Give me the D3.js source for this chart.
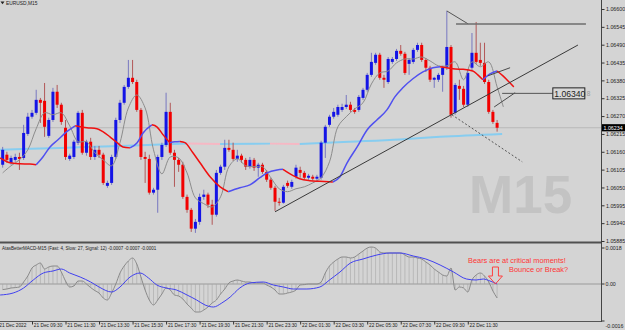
<!DOCTYPE html>
<html><head><meta charset="utf-8">
<script src="https://cdn.jsdelivr.net/npm/d3@7"></script>
<style>html,body{margin:0;padding:0;background:#d4d4d4;overflow:hidden}svg{display:block}</style>
</head><body><svg id="c" width="625" height="330"></svg>
<script>
// ---------- DATA (EURUSD M15, first bar 21 Dec 07:45) ----------
const openP = [1.06120,1.06151,1.06126,1.06135,1.06144,1.06141,1.06215,1.06268,1.06280,1.06320,
1.06317,1.06209,1.06258,1.06345,1.06305,1.06234,1.06138,1.06144,1.06188,1.06280,
1.06157,1.06191,1.06144,1.06166,1.06151,1.06055,1.06064,1.06144,1.06258,1.06311,
1.06360,1.06388,1.06375,1.06289,1.06144,1.06138,1.06034,1.06043,1.06144,1.06181,
1.06283,1.06157,1.06135,1.06120,1.06021,1.05981,1.05923,1.05944,1.06021,1.06028,
1.05997,1.05966,1.06095,1.06114,1.06172,1.06166,1.06138,1.06148,1.06135,1.06114,
1.06135,1.06111,1.06120,1.06098,1.06074,1.06049,1.06006,1.06003,1.06064,1.06052,
1.06083,1.06104,1.06095,1.06080,1.06083,1.06077,1.06080,1.06188,1.06243,1.06268,
1.06274,1.06289,1.06298,1.06305,1.06289,1.06289,1.06326,1.06351,1.06397,1.06434,
1.06459,1.06388,1.06375,1.06437,1.06446,1.06471,1.06462,1.06431,1.06437,1.06474,
1.06489,1.06443,1.06419,1.06382,1.06382,1.06397,1.06422,1.06483,1.06280,1.06363,
1.06354,1.06305,1.06419,1.06465,1.06443,1.06434,1.06375,1.06283,1.06249];
const highP = [1.06175,1.06160,1.06148,1.06154,1.06157,1.06243,1.06280,1.06289,1.06351,1.06326,
1.06372,1.06265,1.06357,1.06366,1.06311,1.06258,1.06154,1.06197,1.06286,1.06289,
1.06197,1.06203,1.06178,1.06178,1.06157,1.06071,1.06151,1.06265,1.06320,1.06366,
1.06443,1.06443,1.06382,1.06295,1.06160,1.06151,1.06049,1.06151,1.06188,1.06342,
1.06311,1.06166,1.06141,1.06129,1.06028,1.05987,1.05953,1.06031,1.06043,1.06034,
1.06012,1.06104,1.06120,1.06197,1.06197,1.06188,1.06166,1.06154,1.06141,1.06144,
1.06141,1.06126,1.06126,1.06104,1.06080,1.06055,1.06018,1.06058,1.06071,1.06074,
1.06120,1.06114,1.06101,1.06092,1.06089,1.06089,1.06194,1.06243,1.06274,1.06295,
1.06305,1.06308,1.06335,1.06314,1.06295,1.06335,1.06357,1.06403,1.06465,1.06465,
1.06465,1.06397,1.06452,1.06452,1.06477,1.06489,1.06468,1.06449,1.06480,1.06496,
1.06496,1.06449,1.06425,1.06391,1.06403,1.06425,1.06594,1.06489,1.06372,1.06382,
1.06363,1.06412,1.06526,1.06560,1.06496,1.06496,1.06382,1.06289,1.06258];
const lowP = [1.06111,1.06126,1.06120,1.06129,1.06104,1.06135,1.06209,1.06262,1.06274,1.06249,
1.06206,1.06203,1.06252,1.06295,1.06243,1.06135,1.06132,1.06138,1.06181,1.06151,
1.06148,1.06135,1.06135,1.06141,1.06058,1.06049,1.06058,1.06138,1.06249,1.06305,
1.06354,1.06369,1.06283,1.06135,1.06064,1.06028,1.06028,1.05972,1.06135,1.06175,
1.06151,1.06052,1.06098,1.06015,1.05972,1.05913,1.05910,1.05935,1.06012,1.05987,
1.05935,1.05960,1.06089,1.06104,1.06160,1.06132,1.06129,1.06126,1.06104,1.06108,
1.06101,1.06083,1.06092,1.06067,1.06043,1.05978,1.05994,1.06000,1.06049,1.06046,
1.06077,1.06080,1.06074,1.06074,1.06071,1.06071,1.06074,1.06141,1.06237,1.06262,
1.06268,1.06283,1.06292,1.06283,1.06277,1.06283,1.06320,1.06345,1.06391,1.06428,
1.06382,1.06357,1.06369,1.06431,1.06440,1.06456,1.06397,1.06397,1.06431,1.06468,
1.06437,1.06406,1.06375,1.06357,1.06375,1.06345,1.06412,1.06265,1.06274,1.06320,
1.06298,1.06298,1.06412,1.06431,1.06425,1.06369,1.06277,1.06246,1.06222];
const closeP = [1.06166,1.06135,1.06141,1.06144,1.06138,1.06218,1.06268,1.06280,1.06320,1.06311,
1.06237,1.06258,1.06345,1.06305,1.06252,1.06144,1.06148,1.06191,1.06280,1.06157,
1.06191,1.06144,1.06166,1.06151,1.06064,1.06064,1.06144,1.06258,1.06311,1.06360,
1.06388,1.06375,1.06289,1.06144,1.06138,1.06034,1.06043,1.06144,1.06181,1.06283,
1.06157,1.06135,1.06120,1.06021,1.05981,1.05923,1.05944,1.06021,1.06028,1.05997,
1.05966,1.06095,1.06114,1.06172,1.06166,1.06138,1.06148,1.06135,1.06114,1.06135,
1.06111,1.06120,1.06098,1.06074,1.06049,1.06006,1.06003,1.06052,1.06055,1.06067,
1.06111,1.06095,1.06080,1.06086,1.06077,1.06083,1.06188,1.06237,1.06268,1.06283,
1.06298,1.06298,1.06305,1.06289,1.06283,1.06329,1.06351,1.06397,1.06437,1.06459,
1.06388,1.06382,1.06446,1.06446,1.06471,1.06462,1.06403,1.06443,1.06474,1.06489,
1.06443,1.06419,1.06382,1.06388,1.06397,1.06419,1.06483,1.06274,1.06366,1.06354,
1.06305,1.06403,1.06465,1.06437,1.06434,1.06375,1.06283,1.06252,1.06234];

const lastPrice = 1.06234;
const priceTicks = [1.06600,1.06545,1.06490,1.06435,1.06380,1.06325,1.06270,1.06215,1.06160,1.06105,1.06050,1.05995,1.05940,1.05885];
const timeTickBars = [-1.25,7,15,23,31,39,47,55,63,71,79,87,95,103,111];
const timeTickLabels = ["21 Dec 2022","21 Dec 09:30","21 Dec 11:30","21 Dec 13:30","21 Dec 15:30","21 Dec 17:30","21 Dec 19:30","21 Dec 21:30","21 Dec 23:30","22 Dec 01:30","22 Dec 03:30","22 Dec 05:30","22 Dec 07:30","22 Dec 09:30","22 Dec 11:30"];

// fast moving average (thin grey)
const fastIdx = [0,2,4,6,8,10,12,14,16,18,20,22,24,26,28,30,32,34,36,38,40,42,44,46,48,50,52,54,56,58,60,62,64,66,68,70,72,74,76,78,80,82,84,86,88,90,92,94,96,98,100,102,104,106,108,110,112,114,116,118,119.5];
const fastVal = [1.06095,1.06117,1.06135,1.06166,1.06231,1.06280,1.06274,1.06280,1.06240,1.06191,
1.06191,1.06157,1.06135,1.06117,1.06188,1.06295,1.06335,1.06295,1.06166,1.06092,
1.06144,1.06141,1.06095,1.06018,1.06000,1.05990,1.06021,1.06114,1.06138,1.06117,
1.06114,1.06114,1.06080,1.06046,1.06037,1.06046,1.06052,1.06064,1.06080,1.06129,
1.06237,1.06268,1.06292,1.06311,1.06369,1.06403,1.06409,1.06434,1.06446,1.06446,
1.06452,1.06440,1.06425,1.06425,1.06437,1.06382,1.06437,1.06422,1.06437,1.06360,1.06298];

// trend-coloured moving average (blue rising / red falling)
const midIdx = [-0.6,1.75,4.1,6.5,8,9.6,11.3,13.2,15.3,17.3,20.1,22.5,23.9,25.6,27.3,28.7,30.4,32.1,33.5,35.6,36.8,38.3,39.9,41.1,42.3,43.5,45.4,47.1,49.5,51.9,53.8,56.6,59.0,61.4,63.1,65.5,66.9,68.6,70.9,73.3,75.7,78.8,80.5,82.2,84.6,87.0,89.3,91.7,93.6,95.5,97.9,100.3,102.7,104.4,106.0,108.0,109.9,112.2,113.4,114.6,116.3,118.0,119.4,121.1,122.0];
const midVal = [1.06141,1.06126,1.06123,1.06122,1.06120,1.06144,1.06175,1.06197,1.06222,1.06240,
1.06234,1.06231,1.06222,1.06206,1.06188,1.06175,1.06172,1.06188,1.06218,1.06243,
1.06237,1.06212,1.06188,1.06191,1.06192,1.06188,1.06157,1.06126,1.06083,1.06052,1.06037,
1.06049,1.06058,1.06080,1.06095,1.06104,1.06106,1.06092,1.06077,1.06071,1.06069,1.06067,
1.06083,1.06126,1.06175,1.06228,1.06258,1.06289,1.06329,1.06357,1.06385,1.06406,1.06419,1.06422,
1.06419,1.06415,1.06414,1.06409,1.06397,1.06382,1.06400,1.06409,1.06394,1.06372,1.06360];

// slow moving average (light blue rising / pink falling)
const slowIdx = [-0.6,13.7,28.0,44.0,51.9,63.8,70.9,82.9,94.8,104.4,119.2];
const slowVal = [1.06166,1.06172,1.06178,1.061857,1.061839,1.061851,1.061842,1.06191,1.06198,1.06206,1.06215];

// MACD (Fast 4, Slow 27, Signal 12)
const macdMain = [-0.00028,-0.00025,-0.0002,-0.00018,-0.00015,0.0001,0.0004,0.0008,0.00095,0.00105,
0.00075,0.00085,0.0009,0.0009,0.0006,0.00015,-0.00015,-0.0001,0.00015,0.00015,
0,-0.00018,-0.00033,-0.00045,-0.0007,-0.0008,-0.00045,0,0.00055,0.0009,
0.00115,0.0013,0.001,0.00035,-0.0003,-0.0008,-0.00105,-0.0008,-0.0005,-0.0002,
-0.0003,-0.00055,-0.0006,-0.00075,-0.001,-0.0012,-0.0014,-0.0014,-0.0013,-0.00115,
-0.00095,-0.0008,-0.0005,-0.00025,0.00005,0.00015,0.0002,0.00015,0.0001,0.0001,
0.00005,0.00005,0.00005,-0.00005,-0.00015,-0.0003,-0.0005,-0.0005,-0.00045,-0.0004,
-0.0003,-0.00005,-0.00003,0,0,0,0.0001,0.00055,0.0009,0.0011,
0.00125,0.00135,0.00135,0.0013,0.00135,0.0015,0.00165,0.0018,0.00185,0.0018,
0.0016,0.00155,0.00155,0.00155,0.00155,0.00155,0.00145,0.00135,0.00135,0.0013,
0.00125,0.0011,0.00095,0.00075,0.0006,0.00045,0.0004,0.0008,-0.0003,-0.00015,
-0.0002,-0.0004,0.0002,0.00045,0.00055,0.0004,0.0001,-0.00035,-0.0007];
const sigIdx = [-0.6,2.5,5,7.3,9.7,12,14,16,18.5,21,23,26,28,30.4,32.8,34.8,36.8,39,41.5,44,46.3,48.3,50.3,52.3,54.3,56.6,59,62.2,64.6,67,69.4,72.6,75.7,78,80.5,83,86,89.3,92.4,94.8,98,101,104.4,107.6,110.7,113,114.7,116.3,118];
const sigVal = [-0.00055,-0.00045,-0.0002,0.0002,0.00055,0.00065,0.00075,0.00055,0.00035,0.0001,
-0.00015,-0.0004,-0.00015,0.00035,0.00055,0.0003,-0.00005,-0.0002,-0.0003,-0.00055,
-0.0008,-0.00105,-0.00115,-0.00095,-0.00065,-0.0002,0.00005,0.0001,-0.00005,-0.00015,
-0.00025,-0.00025,-0.00015,0.0002,0.0006,0.00105,0.00125,0.00145,0.00155,0.00155,
0.0014,0.00125,0.00095,0.0006,0.00025,0.0002,0.00025,0.00015,0];
const macdTicks = [0.0018, 0, -0.0016];
const macdTickLabels = ["0.0018","0.00","-0.0016"];

// drawn objects: [bar index, price]
const trendLine = [[65,1.05975],[137.3,1.06489]];
const channelUpper = [[115.8,1.06394],[121.1,1.06419]];
const channelLower = [[117.3,1.06298],[122.3,1.06342]];
const levelLine = [[119.2,1.06340],[131.3,1.06340]];
const dashedLine = [[107.2,1.06274],[124,1.06129]];
const topDiag = [[106,1.06594],[111.1,1.06554]];
const topLevel = [[108.2,1.06554],[139.2,1.06554]];
const levelLabel = "1.06340";

// ---------- DRAW ----------
const svg = d3.select("#c");
const W = 625, H = 330, AX = 601, MAINB = 242, SUBT = 244, SUBB = 321;
const font = "'Liberation Sans', Arial, sans-serif";
svg.append("rect").attr("width",W).attr("height",H).attr("fill","#d4d4d4");

const x = d3.scaleLinear().domain([0,118]).range([2.67,497.1]);
const y = d3.scaleLinear().domain([1.05885,1.06600]).range([241,9]);
const ym = d3.scaleLinear().domain([-0.0016,0.0018]).range([316,248]);

const defs = svg.append("defs");
defs.append("clipPath").attr("id","cm").append("rect").attr("x",0).attr("y",0).attr("width",AX).attr("height",MAINB);
defs.append("clipPath").attr("id","cs").append("rect").attr("x",0).attr("y",SUBT).attr("width",AX).attr("height",SUBB-SUBT);

const main = svg.append("g").attr("clip-path","url(#cm)");

// watermark
main.append("text").attr("x",469).attr("y",213).attr("font-family",font).attr("font-weight","bold")
  .attr("font-size",53).attr("fill","#c3c3c3").text("M15");

// bid line
main.append("line").attr("x1",0).attr("x2",AX).attr("y1",y(lastPrice)).attr("y2",y(lastPrice))
  .attr("stroke","#b9b9b9").attr("stroke-width",1);

// coloured runs helper
function runs(idx, val){
  const out=[]; let cur=null, dir=null;
  for(let k=0;k<idx.length-1;k++){
    const d = val[k+1] >= val[k] ? "up" : "down";
    if(d!==dir){ cur={dir:d, pts:[[idx[k],val[k]]]}; out.push(cur); dir=d; }
    cur.pts.push([idx[k+1],val[k+1]]);
  }
  return out;
}
const pl = d3.line().x(d=>x(d[0])).y(d=>y(d[1])).curve(d3.curveMonotoneX);

// slow MA
runs(slowIdx, slowVal).forEach(r=>{
  main.append("path").attr("d",pl(r.pts)).attr("fill","none")
    .attr("stroke", r.dir==="up" ? "#87cdf0" : "#f6b8c4").attr("stroke-width",2);
});

// candles
const bars = d3.range(openP.length);
const cg = main.append("g");
cg.selectAll("line.w").data(bars).join("line").attr("class","w")
  .attr("x1",i=>x(i)).attr("x2",i=>x(i)).attr("y1",i=>y(highP[i])).attr("y2",i=>y(lowP[i]))
  .attr("stroke",i=>closeP[i]>=openP[i] ? "#7878c0" : "#b25858").attr("stroke-width",1);
cg.selectAll("rect.b").data(bars).join("rect").attr("class","b")
  .attr("x",i=>x(i)-1.5).attr("width",3)
  .attr("y",i=>Math.min(y(openP[i]),y(closeP[i])))
  .attr("height",i=>Math.max(1,Math.abs(y(openP[i])-y(closeP[i]))))
  .attr("fill",i=>closeP[i]>=openP[i] ? "#1414e6" : "#f20000");

// fast MA
main.append("path").attr("d", d3.line().x((d,k)=>x(fastIdx[k])).y(d=>y(d)).curve(d3.curveCatmullRom.alpha(0.5))(fastVal))
  .attr("fill","none").attr("stroke","#8c8c8c").attr("stroke-width",1);

// trend-coloured MA
runs(midIdx, midVal).forEach(r=>{
  main.append("path").attr("d",pl(r.pts)).attr("fill","none")
    .attr("stroke", r.dir==="up" ? "#5050f0" : "#f01010").attr("stroke-width",1.5);
});

// objects
const seg = (pts, col, w, dash) => main.append("line")
  .attr("x1",x(pts[0][0])).attr("y1",y(pts[0][1])).attr("x2",x(pts[1][0])).attr("y2",y(pts[1][1]))
  .attr("stroke",col).attr("stroke-width",w).attr("stroke-dasharray",dash||null);
seg(trendLine,"#3a3a3a",1);
seg(channelUpper,"#4a4a4a",1);
seg(channelLower,"#4a4a4a",1);
seg(levelLine,"#555",1);
seg(dashedLine,"#555",1,"2,2");
seg(topDiag,"#555",1);
seg(topLevel,"#6e6e6e",1.5);

// level label box
const ly = y(levelLine[0][1]);
main.append("rect").attr("x",x(levelLine[1][0])).attr("y",ly-5.5).attr("width",32).attr("height",11)
  .attr("fill","#d8d8d8").attr("stroke","#222").attr("stroke-width",1);
main.append("text").attr("x",x(levelLine[1][0])+1.5).attr("y",ly+3.2).attr("font-family",font)
  .attr("font-size",8.6).attr("fill","#222").text(levelLabel);
main.append("text").attr("x",x(levelLine[1][0])+34).attr("y",ly+2.8).attr("font-family",font)
  .attr("font-size",6.5).attr("fill","#9a9a9a").text("8");

// title
svg.append("path").attr("d","M0.5,1.5 L4.5,1.5 L2.5,4.2 Z").attr("fill","#222");
svg.append("text").attr("x",6).attr("y",5.2).attr("font-family",font).attr("font-size",4.9).attr("fill","#222").text("EURUSD,M15");

// ---------- MACD subwindow ----------
const sub = svg.append("g").attr("clip-path","url(#cs)");
sub.append("line").attr("x1",0).attr("x2",AX).attr("y1",ym(0)).attr("y2",ym(0)).attr("stroke","#9a9a9a").attr("stroke-width",1);
sub.selectAll("line.h").data(bars).join("line").attr("class","h")
  .attr("x1",i=>x(i)).attr("x2",i=>x(i)).attr("y1",ym(0)).attr("y2",i=>ym(macdMain[i]))
  .attr("stroke","#a6a6a6").attr("stroke-width",0.6);
sub.append("path").attr("d", d3.line().x((d,i)=>x(i)).y(d=>ym(d)).curve(d3.curveMonotoneX)(macdMain))
  .attr("fill","none").attr("stroke","#8a8a8a").attr("stroke-width",1);
sub.append("path").attr("d", d3.line().x((d,k)=>x(sigIdx[k])).y(d=>ym(d)).curve(d3.curveMonotoneX)(sigVal))
  .attr("fill","none").attr("stroke","#4040f0").attr("stroke-width",1);

svg.append("text").attr("x",2).attr("y",250.3).attr("font-family",font).attr("font-size",4.5).attr("fill","#222")
  .text("AtasBetterMACD-M15 (Fast: 4, Slow: 27, Signal: 12) -0.0007 -0.0007 -0.0001");

// annotation
svg.append("text").attr("x",468).attr("y",262.6).attr("font-family",font).attr("font-size",7.4).attr("fill","#ff3535")
  .text("Bears are at critical moments!");
svg.append("text").attr("x",509).attr("y",272).attr("font-family",font).attr("font-size",7.4).attr("fill","#ff3535")
  .text("Bounce or Break?");
const ax0 = x(117.6);
svg.append("path").attr("d",`M${ax0-3},267 h6 v9 h4 l-7,8 l-7,-8 h4 z`).attr("fill","none")
  .attr("stroke","#ff4040").attr("stroke-width",1);

// frames
svg.append("line").attr("x1",0).attr("x2",AX).attr("y1",242.5).attr("y2",242.5).attr("stroke","#505050").attr("stroke-width",2);
svg.append("line").attr("x1",0).attr("x2",AX).attr("y1",SUBB+0.5).attr("y2",SUBB+0.5).attr("stroke","#555").attr("stroke-width",1);
svg.append("line").attr("x1",AX+0.5).attr("x2",AX+0.5).attr("y1",0).attr("y2",SUBB+1).attr("stroke","#444").attr("stroke-width",1);

// price axis
const pa = svg.append("g").attr("transform",`translate(${AX+0.5},0)`)
  .call(d3.axisRight(y).tickValues(priceTicks).tickSize(3).tickFormat(d3.format(".5f")));
pa.select(".domain").remove();
pa.selectAll("line").attr("stroke","#333");
pa.selectAll("text").attr("x",4.5).attr("font-family",font).attr("font-size",5.3).attr("fill","#222");

// current price tag
svg.append("rect").attr("x",AX+1).attr("y",y(lastPrice)-3.6).attr("width",24).attr("height",7.2).attr("fill","#000");
svg.append("text").attr("x",AX+2.5).attr("y",y(lastPrice)+1.9).attr("font-family",font).attr("font-size",5.3)
  .attr("fill","#fff").text(d3.format(".5f")(lastPrice));

// macd axis labels
macdTicks.forEach((v,k)=>{
  let yy = ym(v);
  if(k===2) yy = 325.6;
  svg.append("line").attr("x1",AX+1).attr("x2",AX+3.5).attr("y1",Math.min(yy,SUBB)).attr("y2",Math.min(yy,SUBB)).attr("stroke","#333");
  svg.append("text").attr("x",AX+4.5).attr("y",yy+1.9).attr("font-family",font).attr("font-size",5.3)
    .attr("fill","#222").text(macdTickLabels[k]);
});

// time axis
const ta = svg.append("g").attr("transform",`translate(0,${SUBB+0.5})`)
  .call(d3.axisBottom(x).tickValues(timeTickBars).tickSize(3).tickFormat((d,i)=>timeTickLabels[i]));
ta.select(".domain").remove();
ta.selectAll("line").attr("stroke","#333");
ta.selectAll("text").attr("text-anchor","start").attr("x",1.3).attr("y",1.6).attr("dy","0.71em")
  .attr("font-family",font).attr("font-size",4.8).attr("fill","#222");
</script>
</body></html>
